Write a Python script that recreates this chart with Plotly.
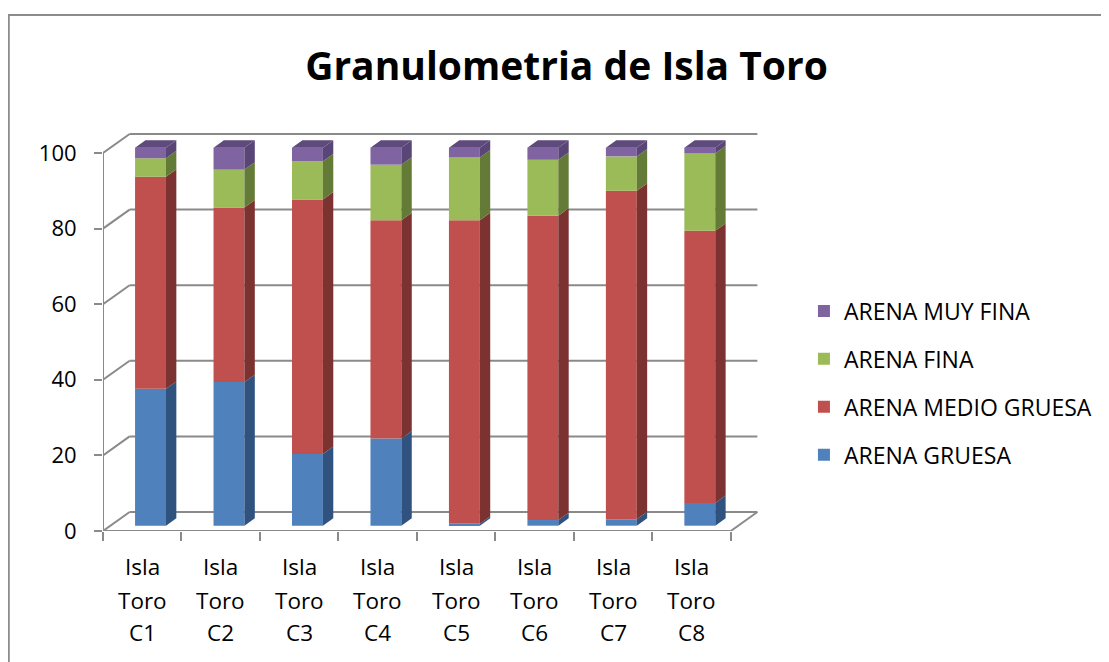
import plotly.graph_objects as go

# ---------------- data ----------------
categories = ["Isla Toro C1", "Isla Toro C2", "Isla Toro C3", "Isla Toro C4",
              "Isla Toro C5", "Isla Toro C6", "Isla Toro C7", "Isla Toro C8"]
arena_gruesa = [36.2, 38.0, 19.0, 23.1, 0.5, 1.5, 1.7, 6.0]
arena_medio_gruesa = [56.1, 46.2, 67.3, 57.7, 80.3, 80.5, 86.9, 72.0]
arena_fina = [4.9, 10.0, 10.1, 14.7, 16.6, 14.8, 9.1, 20.5]
arena_muy_fina = [2.8, 5.8, 3.6, 4.5, 2.6, 3.2, 2.3, 1.5]
y_ticks = [0, 20, 40, 60, 80, 100]

series = [
    ("ARENA GRUESA", arena_gruesa, "#4F81BD", "#30527F"),
    ("ARENA MEDIO GRUESA", arena_medio_gruesa, "#C0504D", "#7B3230"),
    ("ARENA FINA", arena_fina, "#9BBB59", "#647A37"),
    ("ARENA MUY FINA", arena_muy_fina, "#8064A2", "#5A4676"),
]
top_color = "#5E4A7C"

# ---------------- geometry ----------------
OFF = 8                      # page body margin of the html page
W, H = 1109 - OFF, 662 - OFF
PX_X, PX_Y = 78.7, 3.78
X0, X1 = -0.5, 8.0
Y0, Y1 = 0.0, 106.08
ML, MT = 103 - OFF, 130 - OFF
MR = W - ML - (X1 - X0) * PX_X
MB = H - MT - (Y1 - Y0) * PX_Y

BACK_DX, BACK_DY = 26.7 / PX_X, 19.0 / PX_Y
BAR_DX, BAR_DY = 8.3 / PX_X, 5.3 / PX_Y
BAR_W = 31.0 / PX_X
DEP_DX, DEP_DY = 10.4 / PX_X, 7.4 / PX_Y
n = len(categories)
GRID = "#8A8A8A"

def px_x(p):   # reference pixel -> paper
    return (p - OFF - ML) / (W - ML - MR)
def px_y(p):
    return (H - MB - (p - OFF)) / (H - MT - MB)

fig = go.Figure()

cum = [0.0] * n
for k, (name, vals, col, side) in enumerate(series):
    xs = [i + BAR_DX for i in range(n)]
    bases = [c + BAR_DY for c in cum]
    fig.add_trace(go.Bar(x=xs, y=vals, base=bases, width=BAR_W, name=name,
                         marker=dict(color=col, line=dict(width=0)),
                         legendgroup=name, legendrank=100 - k, customdata=categories,
                         hovertemplate="%{customdata}<br>" + name + ": %{y}<extra></extra>"))
    px, py = [], []
    for i in range(n):
        xr = i + BAR_DX + BAR_W / 2
        b = cum[i] + BAR_DY
        t = b + vals[i]
        px += [xr, xr + DEP_DX, xr + DEP_DX, xr, xr, None]
        py += [b, b + DEP_DY, t + DEP_DY, t, b, None]
    fig.add_trace(go.Scatter(x=px, y=py, mode="lines", fill="toself",
                             fillcolor=side, line=dict(width=0, color=side),
                             showlegend=False, hoverinfo="skip"))
    cum = [c + v for c, v in zip(cum, vals)]

px, py = [], []
for i in range(n):
    xl = i + BAR_DX - BAR_W / 2
    xr = i + BAR_DX + BAR_W / 2
    t = cum[i] + BAR_DY
    px += [xl, xl + DEP_DX, xr + DEP_DX, xr, xl, None]
    py += [t, t + DEP_DY, t + DEP_DY, t, t, None]
fig.add_trace(go.Scatter(x=px, y=py, mode="lines", fill="toself",
                         fillcolor=top_color, line=dict(width=0, color=top_color),
                         showlegend=False, hoverinfo="skip"))

# ---------------- walls / gridlines ----------------
shapes = []
def seg(x0, y0, x1, y1):
    shapes.append(dict(type="line", xref="x", yref="y", x0=x0, y0=y0, x1=x1, y1=y1,
                       line=dict(color=GRID, width=2), layer="below"))

xa, xb = -0.5, n - 0.5
for v in y_ticks:
    seg(xa + BACK_DX, v + BACK_DY, xb + BACK_DX, v + BACK_DY)
    seg(xa, v, xa + BACK_DX, v + BACK_DY)
seg(xa, 0, xa, y_ticks[-1])
seg(xa, 0, xb, 0)
seg(xb, 0, xb + BACK_DX, BACK_DY)

shapes.append(dict(type="path", xref="paper", yref="paper",
                   path="M %f %f L %f %f L %f %f" % (
                       px_x(8.5), px_y(700), px_x(8.5), px_y(15), px_x(1200), px_y(15)),
                   line=dict(color="#8C8C8C", width=2)))

# ---------------- category labels ----------------
FONT = "Open Sans"
annotations = []
line_px = [566.5, 600.0, 632.5]
for i, cat in enumerate(categories):
    for k, part in enumerate(cat.split(" ")):
        annotations.append(dict(x=i, y=px_y(line_px[k]), xref="x", yref="paper",
                                text=part, showarrow=False, xanchor="center", yanchor="middle",
                                font=dict(family=FONT, size=22.5, color="#000000")))

fig.update_layout(
    width=W, height=H,
    margin=dict(l=ML, r=MR, t=MT, b=MB, pad=0),
    paper_bgcolor="white", plot_bgcolor="white",
    barmode="overlay",
    title=dict(text="<b>Granulometria de Isla Toro</b>", x=(566.5 - OFF) / W, xanchor="center",
               y=1 - (66 - OFF) / H, yanchor="middle", yref="container",
               font=dict(family=FONT, size=39, color="#000000")),
    xaxis=dict(range=[X0, X1], tickvals=[i - 0.5 for i in range(n + 1)],
               showticklabels=False, ticks="outside", ticklen=9, tickwidth=2,
               tickcolor=GRID, showgrid=False, zeroline=False, showline=False,
               fixedrange=True),
    yaxis=dict(range=[Y0, Y1], tickvals=y_ticks, ticks="outside", ticklen=8,
               tickwidth=2, tickcolor=GRID, showgrid=False, zeroline=False,
               showline=False, ticklabelstandoff=13,
               tickfont=dict(family=FONT, size=22, color="#000000")),
    legend=dict(x=px_x(806), y=px_y(289.5), xanchor="left", yanchor="top",
                traceorder="grouped", tracegroupgap=15,
                font=dict(family=FONT, size=23, color="#000000"),
                bgcolor="rgba(0,0,0,0)"),
    shapes=shapes,
    annotations=annotations,
    showlegend=True,
)

fig.write_html("out.html")
